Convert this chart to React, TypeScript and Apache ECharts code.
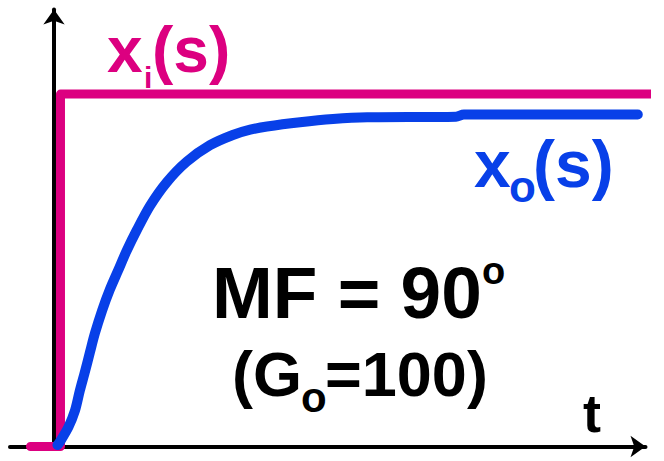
import React, { useEffect, useRef } from "react";
import * as echarts from "echarts";

// Input step x_i(s): time / value
const inputT = [-3.92, 1.08, 1.08, 99.92];
const inputV = [0, 0, 1, 1];

// Output response x_o(s): time / value
const outT = [0.58, 1.0, 2.4, 3.5, 4.3, 5.2, 6.0, 6.8, 8.0, 9.3, 10.7, 12.1, 13.8, 16.0, 18.8, 22.1, 26.0, 29.8, 32.7, 35.5, 41.0, 46.5, 52.2, 67.0, 68.3, 97.3];
const outV = [0.004, 0.014, 0.055, 0.102, 0.158, 0.215, 0.268, 0.32, 0.385, 0.445, 0.5, 0.555, 0.614, 0.683, 0.75, 0.808, 0.855, 0.884, 0.899, 0.908, 0.92, 0.929, 0.934, 0.936, 0.942, 0.942];

const PINK = "#DC0080";
const BLUE = "#0840E8";
const FAMILY = '"Liberation Sans", Arial, Helvetica, sans-serif';

// text pieces: [text, left, baseline, fontSize, color]
const labels: [string, number, number, number, string][] = [
  ["x", 107, 72, 64, PINK],
  ["i", 144, 88, 30, PINK],
  ["(s)", 152, 72, 64, PINK],
  ["x", 474, 187, 66, BLUE],
  ["o", 509, 202, 44, BLUE],
  ["(s)", 533, 187, 66, BLUE],
  ["MF = 90", 212, 318, 73, "#000"],
  ["o", 482, 284, 38, "#000"],
  ["(G", 232, 396, 63, "#000"],
  ["o", 301, 412, 42, "#000"],
  ["=100)", 325, 396, 63, "#000"],
  ["t", 583, 432, 54, "#000"],
];

export default function App() {
  const ref = useRef<HTMLDivElement>(null);
  useEffect(() => {
    if (!ref.current) return;
    const chart = echarts.init(ref.current, null, { renderer: "svg" });
    const axisCommon = {
      type: "value" as const,
      axisLine: {
        show: true,
        onZero: true,
        symbol: ["none", "arrow"],
        symbolSize: [16, 15],
        lineStyle: { color: "#000", width: 4 },
      },
      axisTick: { show: false },
      axisLabel: { show: false },
      splitLine: { show: false },
    };
    chart.setOption({
      animation: false,
      backgroundColor: "#fff",
      grid: { left: 10, right: 18.5, top: 9.5, bottom: 14.5, containLabel: false },
      xAxis: { ...axisCommon, min: -7.3333, max: 98.5833 },
      yAxis: { ...axisCommon, min: 0, max: 1.24 },
      series: [
        {
          type: "line",
          data: inputT.map((t, i) => [t, inputV[i]]),
          symbol: "none",
          clip: false,
          lineStyle: { color: PINK, width: 9, cap: "round", join: "round" },
          z: 3,
        },
        {
          type: "line",
          data: outT.map((t, i) => [t, outV[i]]),
          symbol: "none",
          clip: false,
          smooth: 0.3,
          lineStyle: { color: BLUE, width: 10, cap: "round", join: "round" },
          z: 4,
        },
      ],
      graphic: labels.map(([text, left, base, size, color]) => ({
        type: "text",
        x: left,
        y: base - 0.3465 * size,
        z: 10,
        style: {
          text,
          fill: color,
          fontSize: size,
          fontWeight: "bold",
          fontFamily: FAMILY,
          align: "left",
          verticalAlign: "middle",
        },
      })),
    });
    return () => chart.dispose();
  }, []);
  return (
    <div
      ref={ref}
      style={{ position: "fixed", left: 0, top: 0, width: 664, height: 461 }}
    />
  );
}
